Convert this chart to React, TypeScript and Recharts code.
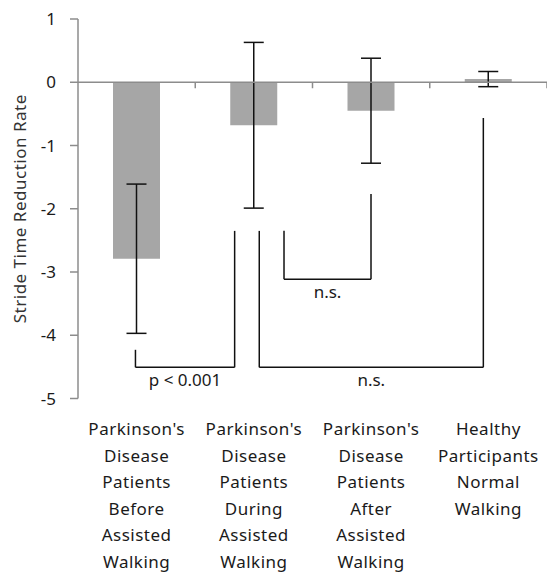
import { BarChart, Bar, XAxis, YAxis, ErrorBar, ReferenceLine } from 'recharts';

const categories = [
  "Parkinson's\nDisease\nPatients\nBefore\nAssisted\nWalking",
  "Parkinson's\nDisease\nPatients\nDuring\nAssisted\nWalking",
  "Parkinson's\nDisease\nPatients\nAfter\nAssisted\nWalking",
  "Healthy\nParticipants\nNormal\nWalking",
];
const means = [-2.79, -0.68, -0.45, 0.05];
const errors = [1.18, 1.31, 0.83, 0.12];
const yTicks = [1, 0, -1, -2, -3, -4, -5];

// significance brackets: x on the 0..4 category position scale, y in data units
const brackets = [
  { x1: 0.49, x2: 1.336, yLeft: -4.23, yRight: -2.35, yBase: -4.507, label: 'p < 0.001' },
  { x1: 1.546, x2: 3.457, yLeft: -2.35, yRight: -0.565, yBase: -4.507, label: 'n.s.' },
  { x1: 1.757, x2: 2.499, yLeft: -2.347, yRight: -1.767, yBase: -3.115, label: 'n.s.' },
];
const boundaries = [1, 2, 3, 4];

const FONT = '"Noto Sans", sans-serif';
const AXIS = '#8c8c8c';
const INK = '#1a1a1a';

// each category sits in the middle of its unit slot
const data = categories.map((name, i) => ({ name, pos: i + 0.5, mean: means[i], err: errors[i] }));
const catTicks = data.map((d) => d.pos);

function CategoryTick({ x, y, payload }: any) {
  const label = categories[Math.floor(payload.value)] ?? '';
  const lines = label.split('\n');
  return (
    <text x={x} y={y} textAnchor="middle" fontFamily={FONT} fontSize={17} fill={INK} letterSpacing={0.5}>
      {lines.map((l, i) => (
        <tspan key={i} x={x} dy={i === 0 ? 36.5 : 26.5}>{l}</tspan>
      ))}
    </text>
  );
}

export default function App() {
  return (
    <div style={{ position: 'absolute', left: 0, top: 0 }}>
      <BarChart width={547} height={572} data={data} margin={{ top: 19, right: 0, bottom: 0, left: 0 }}>
        <XAxis
          dataKey="pos"
          type="number"
          domain={[0, 4]}
          allowDataOverflow
          ticks={catTicks}
          interval={0}
          height={173.5}
          axisLine={false}
          tickLine={false}
          tickSize={0}
          tickMargin={0}
          tick={<CategoryTick />}
        />
        <YAxis
          width={78}
          domain={[-5, 1]}
          ticks={yTicks}
          interval={0}
          stroke={AXIS}
          tickSize={8}
          tickMargin={14}
          tick={{ fill: INK, fontSize: 17, fontFamily: FONT }}
          axisLine={{ stroke: AXIS, strokeWidth: 1.5 }}
          tickLine={{ stroke: AXIS, strokeWidth: 1.5 }}
          label={{
            value: 'Stride Time Reduction Rate',
            angle: -90,
            position: 'insideLeft',
            offset: 20,
            textAnchor: 'middle',
            fill: '#333',
            fontSize: 17,
            letterSpacing: 0.5,
            fontFamily: FONT,
          }}
        />
        <Bar dataKey="mean" fill="#a6a6a6" barSize={47} isAnimationActive={false}>
          <ErrorBar dataKey="err" direction="y" width={10} stroke="#111" strokeWidth={1.5} isAnimationActive={false} />
        </Bar>
        <ReferenceLine y={0} stroke={AXIS} strokeWidth={1.5} />
        {boundaries.map((b) => (
          <ReferenceLine
            key={`t${b}`}
            segment={[{ x: b, y: 0 }, { x: b, y: -0.095 }]}
            stroke={AXIS}
            strokeWidth={1.5}
            ifOverflow="visible"
          />
        ))}
        {brackets.flatMap((br, i) => [
          <ReferenceLine
            key={`l${i}`}
            segment={[{ x: br.x1, y: br.yLeft }, { x: br.x1, y: br.yBase }]}
            stroke="#111"
            strokeWidth={1.5}
          />,
          <ReferenceLine
            key={`b${i}`}
            segment={[{ x: br.x1, y: br.yBase }, { x: br.x2, y: br.yBase }]}
            stroke="#111"
            strokeWidth={1.5}
            label={{ value: br.label, position: 'bottom', offset: 7, fill: INK, fontSize: 17, fontFamily: FONT }}
          />,
          <ReferenceLine
            key={`r${i}`}
            segment={[{ x: br.x2, y: br.yBase }, { x: br.x2, y: br.yRight }]}
            stroke="#111"
            strokeWidth={1.5}
          />,
        ])}
      </BarChart>
    </div>
  );
}
